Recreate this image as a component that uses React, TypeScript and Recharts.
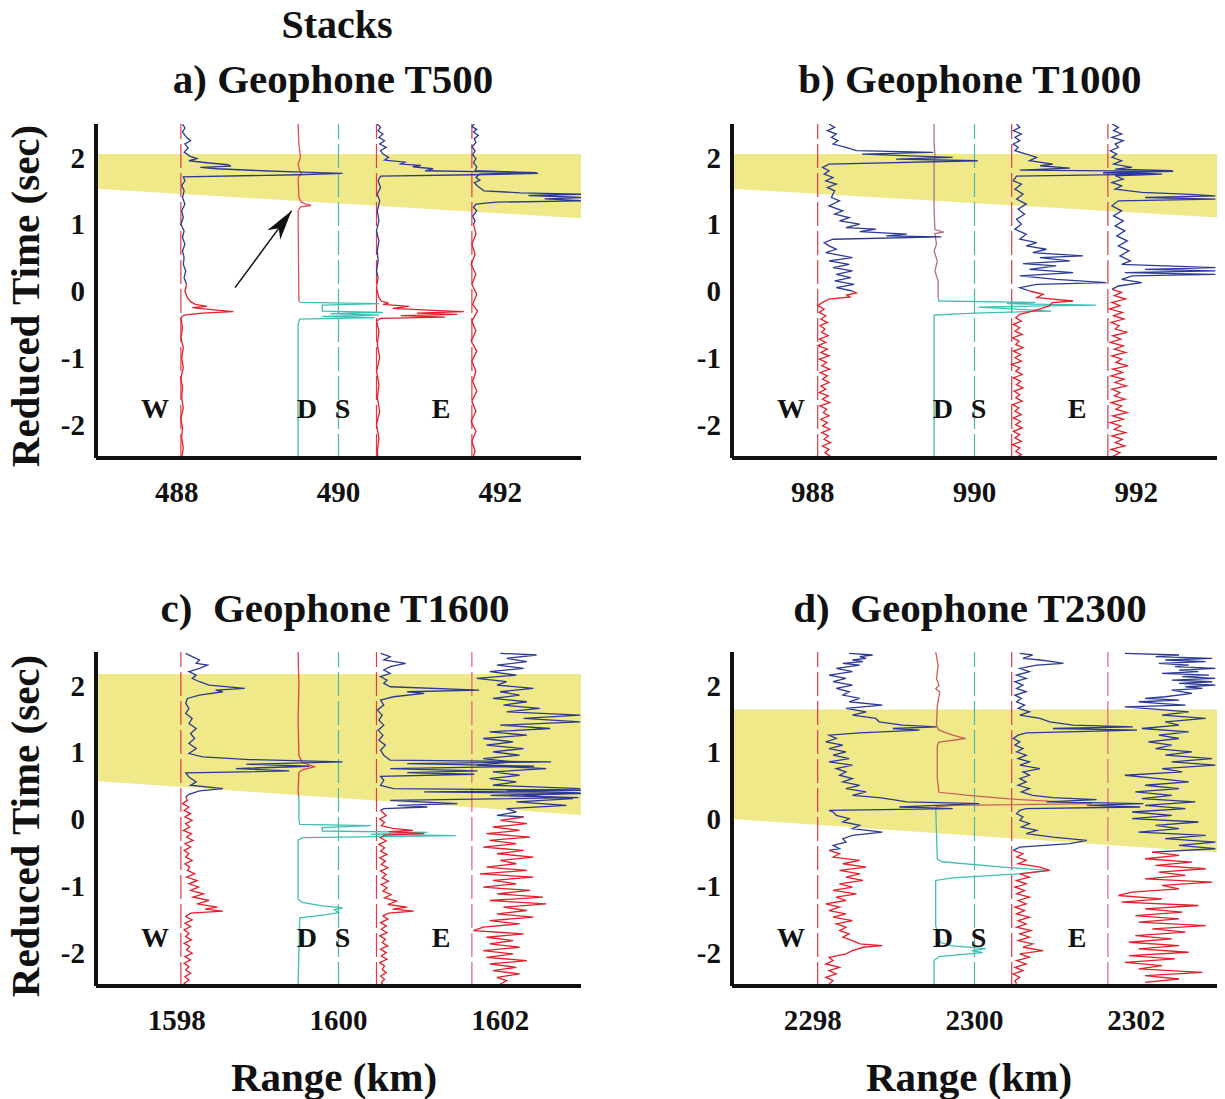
import { ComposedChart, Line, Area, Scatter, XAxis, YAxis } from 'recharts'

// [reduced time (s), deflection from station position (km)]
type Pt = [number, number]

const FONT = '"Liberation Serif", "Times New Roman", serif'
const BLUE = '#2c3a94'
const RED = '#e3202c'
const CYAN = '#3fbfb4'
const BAND = '#efe98a'

const yTicks = [-2, -1, 0, 1, 2]

// ---------- panel a (T500) ----------
const aWBlue: Pt[] = [[2.5,0.02],[2.44,0.05],[2.38,0.02],[2.3,0.07],[2.25,0.12],[2.2,0.05],[2.14,0.09],[2.08,0.04],[2.02,0.11],[1.98,0.2],[1.95,0.1],[1.92,0.32],[1.89,0.58],[1.87,0.62],[1.85,0.24],[1.83,0.45],[1.8,1.0],[1.78,1.5],[1.76,2.0],[1.74,1.45],[1.71,0.03],[1.65,0.05],[1.58,0.01],[1.5,0.04],[1.4,0.02],[1.3,0.05],[1.2,0.01],[1.1,0.03],[1.0,0.0],[0.9,0.04],[0.8,0.02],[0.7,0.05],[0.6,0.02],[0.5,0.04],[0.4,0.03],[0.3,0.06],[0.2,0.04],[0.1,0.07]]
const aWRed: Pt[] = [[0.1,0.07],[0.0,0.05],[-0.1,0.08],[-0.16,0.12],[-0.2,0.18],[-0.23,0.32],[-0.25,0.14],[-0.28,0.38],[-0.31,0.65],[-0.33,0.26],[-0.36,0.04],[-0.4,0.0],[-0.55,0.02],[-0.7,0.0],[-0.85,0.03],[-1.0,0.01],[-1.15,0.03],[-1.3,0.0],[-1.45,0.02],[-1.6,0.01],[-1.75,0.03],[-1.9,0.0],[-2.05,0.02],[-2.2,0.01],[-2.35,0.03],[-2.5,0.01]]
const aDTop: Pt[] = [[2.5,0],[2.2,0.01],[2.0,0.03],[1.9,0.0],[1.8,0.02],[1.76,0.04],[1.7,0.0],[1.4,0.01],[1.33,0.04],[1.3,0.1],[1.28,0.16],[1.26,0.03],[1.2,0.0],[-0.15,0.01]]
const aDLow: Pt[] = [[-0.15,0.01],[-0.17,0.03],[-0.19,1.0],[-0.21,0.3],[-0.3,0.3],[-0.32,1.05],[-0.34,0.4],[-0.36,1.0],[-0.38,0.3],[-0.4,0.95],[-0.42,0.02],[-0.5,0.0],[-2.5,0.0]]
const aE1Blue: Pt[] = [[2.5,0.01],[2.45,0.05],[2.4,0.02],[2.35,0.08],[2.3,0.03],[2.25,0.1],[2.2,0.04],[2.15,0.12],[2.1,0.05],[2.05,0.08],[2.0,0.15],[1.96,0.1],[1.93,0.35],[1.9,0.3],[1.88,0.55],[1.86,0.45],[1.83,0.7],[1.8,0.6],[1.78,1.6],[1.76,2.0],[1.74,1.2],[1.72,0.05],[1.65,0.02],[1.55,0.05],[1.45,0.01],[1.35,0.04],[1.2,0.01],[1.05,0.03],[0.9,0.0],[0.75,0.03],[0.6,0.01],[0.45,0.02],[0.3,0.0],[0.2,0.02]]
const aE1Red: Pt[] = [[0.2,0.02],[0.05,0.0],[-0.1,0.03],[-0.15,0.06],[-0.18,0.15],[-0.2,0.08],[-0.23,0.4],[-0.26,0.2],[-0.29,0.7],[-0.31,1.08],[-0.33,0.5],[-0.35,1.0],[-0.37,0.3],[-0.39,0.85],[-0.41,0.05],[-0.45,0.0],[-0.6,0.03],[-0.8,0.01],[-1.0,0.04],[-1.2,0.0],[-1.4,0.03],[-1.6,0.01],[-1.8,0.04],[-2.0,0.0],[-2.2,0.03],[-2.4,0.01],[-2.5,0.02]]
const aE2Blue: Pt[] = [[2.5,0.03],[2.46,0.0],[2.42,0.06],[2.38,0.02],[2.33,0.08],[2.28,0.03],[2.22,0.05],[2.16,0.0],[2.1,0.04],[2.04,0.01],[1.98,0.05],[1.92,0.02],[1.86,0.06],[1.8,0.04],[1.77,0.8],[1.75,0.1],[1.7,0.05],[1.66,0.1],[1.62,0.03],[1.56,0.08],[1.5,0.15],[1.47,0.6],[1.45,1.4],[1.43,0.7],[1.4,1.4],[1.38,0.9],[1.35,1.4],[1.33,0.3],[1.3,0.05],[1.25,0.02],[1.2,0.06],[1.12,0.01],[1.05,0.04],[1.0,0.02]]
const aE2Red: Pt[] = [[1.0,0.02],[0.85,0.05],[0.7,0.0],[0.55,0.04],[0.4,-0.01],[0.25,0.05],[0.1,0.0],[-0.05,0.06],[-0.2,0.01],[-0.3,0.07],[-0.45,0.0],[-0.6,0.05],[-0.75,-0.01],[-0.9,0.06],[-1.05,0.0],[-1.2,0.05],[-1.35,0.01],[-1.5,0.06],[-1.65,0.0],[-1.8,0.05],[-1.95,-0.01],[-2.1,0.05],[-2.25,0.0],[-2.4,0.04],[-2.5,0.01]]

// ---------- panel b (T1000) ----------
const bWBlue: Pt[] = [[2.5,0.14],[2.45,0.21],[2.4,0.12],[2.35,0.23],[2.3,0.17],[2.25,0.25],[2.2,0.19],[2.15,0.35],[2.1,0.48],[2.075,1.43],[2.05,0.55],[2.0,1.67],[1.975,0.97],[1.95,1.98],[1.9,0.14],[1.85,0.06],[1.8,0.14],[1.75,0.08],[1.7,0.19],[1.65,0.1],[1.6,0.23],[1.55,0.12],[1.5,0.21],[1.4,0.17],[1.35,0.27],[1.275,0.14],[1.2,0.31],[1.15,0.21],[1.1,0.39],[1.05,0.27],[1.0,0.52],[0.95,0.35],[0.925,0.72],[0.89,0.52],[0.85,1.1],[0.825,0.85],[0.81,1.53],[0.775,0.19],[0.725,0.08],[0.675,0.14],[0.625,0.23],[0.575,0.1],[0.5,0.43],[0.45,0.14],[0.4,0.39],[0.35,0.19],[0.3,0.43],[0.25,0.23],[0.2,0.41],[0.15,0.21],[0.1,0.45],[0.05,0.23],[0.0,0.43]]
const bWRed: Pt[] = [[0.0,0.43],[-0.03,0.48],[-0.06,0.36],[-0.09,0.4],[-0.12,0.14],[-0.17,0.06],[-0.22,0.0],[-0.27,0.08],[-0.32,0.02],[-0.37,0.1],[-0.42,0.04],[-0.47,0.12],[-0.52,0.03],[-0.57,0.09],[-0.62,0.05],[-0.67,0.13],[-0.72,0.02],[-0.77,0.1],[-0.82,0.0],[-0.87,0.12],[-0.92,0.04],[-0.97,0.14],[-1.02,0.02],[-1.07,0.11],[-1.12,0.05],[-1.17,0.15],[-1.22,0.03],[-1.27,0.12],[-1.32,0.06],[-1.37,0.14],[-1.42,0.04],[-1.47,0.1],[-1.52,0.02],[-1.57,0.13],[-1.62,0.06],[-1.67,0.15],[-1.72,0.03],[-1.77,0.11],[-1.82,0.07],[-1.87,0.14],[-1.92,0.04],[-1.97,0.12],[-2.02,0.06],[-2.07,0.15],[-2.12,0.05],[-2.17,0.13],[-2.22,0.08],[-2.27,0.16],[-2.32,0.06],[-2.37,0.14],[-2.42,0.09],[-2.47,0.15],[-2.5,0.1]]
const bDTop: Pt[] = [[2.5,0],[2.2,0.0],[2.05,0.01],[1.9,0.0],[1.2,0.0],[0.92,0.01],[0.88,0.12],[0.86,0.01],[0.7,0.03],[0.6,0.0],[0.45,0.04],[0.3,0.01],[0.15,0.05],[0.0,0.05],[-0.1,0.05]]
const bDLow: Pt[] = [[-0.1,0.05],[-0.15,0.06],[-0.17,1.25],[-0.19,0.9],[-0.21,2.0],[-0.24,0.55],[-0.3,1.45],[-0.33,0.5],[-0.36,0.0],[-2.5,0.0]]
const bE1Blue: Pt[] = [[2.5,0.06],[2.45,0.1],[2.4,0.02],[2.35,0.12],[2.3,0.04],[2.25,0.1],[2.2,0.02],[2.15,0.08],[2.1,0.04],[2.05,0.18],[2.0,0.31],[1.95,0.22],[1.9,0.51],[1.875,0.35],[1.84,0.72],[1.81,0.1],[1.79,2.0],[1.77,1.13],[1.75,1.75],[1.72,0.06],[1.65,0.02],[1.6,0.12],[1.525,0.04],[1.45,0.14],[1.375,0.06],[1.3,0.18],[1.225,0.08],[1.15,0.16],[1.075,0.06],[1.0,0.12],[0.925,0.04],[0.85,0.18],[0.775,0.1],[0.725,0.31],[0.675,0.18],[0.625,0.43],[0.575,0.26],[0.525,0.88],[0.5,0.35],[0.45,0.72],[0.41,0.14],[0.375,0.55],[0.325,0.22],[0.275,0.76],[0.225,0.1],[0.175,0.55],[0.125,1.17],[0.1,0.31],[0.05,0.1],[0.0,0.22]]
const bE1Red: Pt[] = [[0.0,0.22],[-0.05,0.39],[-0.1,0.31],[-0.15,0.76],[-0.175,0.5],[-0.22,0.47],[-0.27,0.35],[-0.35,0.1],[-0.4,0.05],[-0.45,0.12],[-0.5,0.02],[-0.55,0.1],[-0.6,0.04],[-0.65,0.13],[-0.7,0.01],[-0.75,0.09],[-0.8,0.05],[-0.85,0.14],[-0.9,0.02],[-0.95,0.11],[-1.0,0.04],[-1.05,0.12],[-1.1,0.0],[-1.15,0.1],[-1.2,0.05],[-1.25,0.13],[-1.3,0.02],[-1.35,0.11],[-1.4,0.06],[-1.45,0.14],[-1.5,0.03],[-1.55,0.1],[-1.6,0.05],[-1.65,0.13],[-1.7,0.01],[-1.75,0.09],[-1.8,0.04],[-1.85,0.12],[-1.9,0.02],[-1.95,0.11],[-2.0,0.05],[-2.05,0.13],[-2.1,0.02],[-2.15,0.1],[-2.2,0.04],[-2.25,0.12],[-2.3,0.01],[-2.35,0.1],[-2.4,0.05],[-2.45,0.12],[-2.5,0.04]]
const bE2Blue: Pt[] = [[2.5,0.05],[2.45,0.13],[2.4,0.07],[2.35,0.17],[2.3,0.05],[2.25,0.19],[2.2,0.09],[2.15,0.13],[2.1,0.03],[2.05,0.11],[2.0,0.05],[1.95,0.17],[1.9,0.07],[1.85,0.3],[1.825,0.09],[1.8,0.8],[1.775,0.13],[1.75,0.67],[1.725,0.09],[1.675,0.19],[1.625,0.05],[1.575,0.17],[1.525,0.09],[1.475,0.42],[1.45,0.96],[1.425,1.33],[1.4,0.46],[1.375,1.33],[1.35,0.13],[1.275,0.05],[1.2,0.17],[1.125,0.07],[1.05,0.19],[0.975,0.09],[0.9,0.21],[0.825,0.11],[0.75,0.24],[0.675,0.13],[0.6,0.26],[0.525,0.15],[0.45,0.28],[0.4,0.17],[0.35,1.33],[0.325,0.46],[0.3,1.33],[0.275,0.21],[0.25,1.33],[0.225,0.3],[0.175,0.17],[0.125,0.42],[0.075,0.13],[0.025,0.05]]
const bE2Red: Pt[] = [[0.025,0.05],[-0.02,0.17],[-0.07,0.08],[-0.12,0.22],[-0.17,0.05],[-0.22,0.15],[-0.27,0.02],[-0.32,0.18],[-0.37,0.07],[-0.42,0.2],[-0.47,0.04],[-0.52,0.14],[-0.57,0.09],[-0.62,0.24],[-0.67,0.06],[-0.72,0.16],[-0.77,0.03],[-0.82,0.19],[-0.87,0.08],[-0.92,0.22],[-0.97,0.05],[-1.02,0.17],[-1.07,0.1],[-1.12,0.25],[-1.17,0.06],[-1.22,0.18],[-1.27,0.04],[-1.32,0.2],[-1.37,0.09],[-1.42,0.23],[-1.47,0.05],[-1.52,0.15],[-1.57,0.08],[-1.62,0.21],[-1.67,0.04],[-1.72,0.17],[-1.77,0.1],[-1.82,0.24],[-1.87,0.06],[-1.92,0.19],[-1.97,0.03],[-2.02,0.16],[-2.07,0.08],[-2.12,0.22],[-2.17,0.05],[-2.22,0.18],[-2.27,0.09],[-2.32,0.21],[-2.37,0.04],[-2.42,0.15],[-2.47,0.07],[-2.5,0.12]]

// ---------- panel c (T1600) ----------
const cWBlue: Pt[] = [[2.48,0.06],[2.43,0.14],[2.38,0.23],[2.33,0.19],[2.305,0.33],[2.255,0.23],[2.205,0.1],[2.155,0.19],[2.105,0.14],[2.055,0.23],[2.005,0.35],[1.955,0.79],[1.93,0.43],[1.905,0.52],[1.855,0.23],[1.805,0.08],[1.73,0.06],[1.655,0.1],[1.58,0.06],[1.505,0.14],[1.43,0.1],[1.355,0.19],[1.28,0.12],[1.205,0.17],[1.13,0.1],[1.055,0.19],[0.98,0.1],[0.93,0.27],[0.89,0.85],[0.855,2.0],[0.82,0.81],[0.79,1.59],[0.755,0.68],[0.72,1.34],[0.69,0.06],[0.63,0.1],[0.555,0.19],[0.505,0.12],[0.455,0.52],[0.42,0.23],[0.37,0.1],[0.33,0.06]]
const cWRed: Pt[] = [[0.33,0.06],[0.28,0.08],[0.23,0.02],[0.18,0.1],[0.13,0.04],[0.08,0.12],[0.03,0.05],[-0.02,0.14],[-0.07,0.06],[-0.12,0.11],[-0.17,0.03],[-0.22,0.13],[-0.27,0.07],[-0.32,0.15],[-0.37,0.05],[-0.42,0.12],[-0.47,0.04],[-0.52,0.1],[-0.57,0.06],[-0.62,0.14],[-0.67,0.05],[-0.72,0.11],[-0.77,0.08],[-0.82,0.17],[-0.87,0.07],[-0.92,0.2],[-0.97,0.1],[-1.02,0.22],[-1.07,0.12],[-1.12,0.28],[-1.17,0.15],[-1.22,0.35],[-1.27,0.2],[-1.32,0.45],[-1.35,0.3],[-1.38,0.52],[-1.41,0.12],[-1.46,0.06],[-1.51,0.14],[-1.56,0.05],[-1.61,0.12],[-1.66,0.04],[-1.71,0.1],[-1.76,0.06],[-1.81,0.13],[-1.86,0.04],[-1.91,0.11],[-1.96,0.07],[-2.01,0.14],[-2.06,0.05],[-2.11,0.12],[-2.16,0.04],[-2.21,0.1],[-2.26,0.06],[-2.31,0.12],[-2.36,0.05],[-2.41,0.1],[-2.46,0.04],[-2.5,0.08]]
const cDTop: Pt[] = [[2.5,0],[2.0,0.01],[1.5,0],[0.95,0.01],[0.85,0.05],[0.78,0.2],[0.74,0.06],[0.7,0.01],[0.4,0.0],[0.33,0.01]]
const cDLow: Pt[] = [[0.33,0.01],[0.0,0.01],[-0.08,0.02],[-0.1,0.9],[-0.13,0.3],[-0.18,0.3],[-0.2,1.6],[-0.23,0.9],[-0.25,1.95],[-0.28,0.05],[-0.32,0.0],[-1.2,0.0],[-1.25,0.05],[-1.3,0.3],[-1.33,0.55],[-1.36,0.45],[-1.4,0.5],[-1.43,0.35],[-1.48,0.02],[-2.5,0.0]]
const cE1Blue: Pt[] = [[2.48,0.05],[2.43,0.17],[2.38,0.09],[2.33,0.36],[2.28,0.17],[2.23,0.09],[2.18,0.17],[2.13,0.05],[2.08,0.13],[2.03,0.09],[1.98,0.17],[1.93,1.27],[1.905,0.38],[1.88,0.59],[1.83,0.21],[1.78,0.05],[1.705,0.09],[1.63,0.01],[1.555,0.07],[1.48,0.03],[1.405,0.09],[1.33,0.02],[1.255,0.08],[1.18,0.03],[1.105,0.11],[1.03,0.05],[0.955,0.09],[0.88,0.17],[0.855,2.16],[0.83,0.38],[0.79,1.95],[0.755,0.17],[0.72,1.25],[0.695,0.38],[0.67,1.21],[0.64,0.05],[0.58,0.09],[0.505,0.05],[0.455,0.21],[0.43,2.55],[0.405,0.59],[0.38,2.55],[0.355,1.41],[0.32,2.5],[0.28,0.17],[0.23,1.0],[0.205,0.26],[0.18,0.63],[0.155,0.09],[0.13,0.05]]
const cE1Red: Pt[] = [[0.13,0.05],[0.05,0.12],[0.0,0.04],[-0.05,0.1],[-0.1,0.06],[-0.14,0.2],[-0.17,0.45],[-0.19,0.15],[-0.22,0.59],[-0.24,0.1],[-0.28,0.05],[-0.33,0.12],[-0.38,0.03],[-0.43,0.1],[-0.48,0.05],[-0.53,0.13],[-0.58,0.04],[-0.63,0.11],[-0.68,0.06],[-0.73,0.14],[-0.78,0.05],[-0.83,0.12],[-0.88,0.07],[-0.93,0.15],[-0.98,0.06],[-1.03,0.13],[-1.08,0.08],[-1.13,0.18],[-1.18,0.1],[-1.23,0.25],[-1.28,0.14],[-1.32,0.38],[-1.35,0.2],[-1.38,0.46],[-1.41,0.15],[-1.45,0.08],[-1.5,0.14],[-1.55,0.05],[-1.6,0.12],[-1.65,0.06],[-1.7,0.13],[-1.75,0.04],[-1.8,0.11],[-1.85,0.07],[-1.9,0.14],[-1.95,0.05],[-2.0,0.12],[-2.05,0.06],[-2.1,0.13],[-2.15,0.04],[-2.2,0.1],[-2.25,0.07],[-2.3,0.12],[-2.35,0.05],[-2.4,0.1],[-2.45,0.06],[-2.5,0.09]]
const cE2Blue: Pt[] = [[2.48,0.35],[2.455,0.8],[2.405,0.43],[2.355,0.68],[2.305,0.31],[2.255,0.64],[2.205,0.22],[2.155,0.55],[2.105,0.06],[2.055,0.43],[2.005,0.31],[1.955,0.76],[1.905,0.35],[1.855,0.59],[1.805,0.26],[1.755,0.68],[1.705,0.39],[1.655,0.84],[1.605,0.43],[1.555,1.34],[1.505,0.64],[1.455,1.34],[1.405,0.35],[1.355,0.97],[1.305,0.22],[1.255,0.68],[1.205,0.14],[1.155,0.51],[1.105,0.18],[1.055,0.64],[1.005,0.26],[0.955,0.59],[0.905,0.14],[0.855,0.51],[0.805,0.06],[0.755,0.92],[0.705,0.26],[0.655,0.59],[0.605,0.22],[0.555,0.55],[0.505,0.26],[0.455,1.34],[0.42,0.43],[0.39,1.34],[0.355,0.64],[0.305,1.25],[0.255,0.55],[0.205,1.17],[0.155,0.43],[0.105,0.55],[0.055,0.31],[0.03,0.64]]
const cE2Red: Pt[] = [[0.03,0.64],[-0.02,0.35],[-0.07,0.68],[-0.12,0.26],[-0.17,0.59],[-0.22,0.18],[-0.27,0.72],[-0.32,0.22],[-0.37,0.55],[-0.42,0.14],[-0.47,0.64],[-0.52,0.31],[-0.57,0.76],[-0.62,0.35],[-0.67,0.55],[-0.72,0.18],[-0.77,0.68],[-0.82,0.1],[-0.87,0.76],[-0.92,0.26],[-0.97,0.55],[-1.02,0.14],[-1.07,0.72],[-1.12,0.31],[-1.17,0.88],[-1.22,0.22],[-1.27,0.92],[-1.32,0.39],[-1.37,0.68],[-1.42,0.31],[-1.47,0.76],[-1.52,0.22],[-1.57,0.59],[-1.62,0.14],[-1.67,0.02],[-1.72,0.64],[-1.77,0.18],[-1.82,0.51],[-1.87,0.22],[-1.92,0.59],[-1.97,0.14],[-2.02,0.51],[-2.07,0.18],[-2.12,0.68],[-2.17,0.22],[-2.22,0.55],[-2.27,0.26],[-2.32,0.59],[-2.37,0.31],[-2.42,0.43],[-2.47,0.35]]

// ---------- panel d (T2300) ----------
const dWBlue: Pt[] = [[2.48,0.39],[2.455,0.68],[2.43,0.52],[2.405,0.6],[2.38,0.43],[2.355,0.56],[2.33,0.31],[2.305,0.52],[2.255,0.23],[2.205,0.43],[2.155,0.14],[2.105,0.35],[2.055,0.19],[2.005,0.43],[1.955,0.23],[1.905,0.39],[1.855,0.31],[1.805,0.52],[1.755,0.39],[1.705,0.8],[1.655,0.35],[1.605,0.6],[1.555,0.43],[1.505,0.72],[1.455,0.76],[1.405,1.05],[1.38,1.47],[1.355,0.93],[1.33,1.26],[1.29,0.52],[1.255,0.14],[1.205,0.23],[1.155,0.1],[1.105,0.31],[1.055,0.14],[1.005,0.35],[0.955,0.19],[0.905,0.39],[0.855,0.14],[0.805,0.43],[0.755,0.23],[0.705,0.35],[0.655,0.27],[0.605,0.43],[0.555,0.31],[0.505,0.52],[0.455,0.35],[0.405,0.6],[0.355,0.43],[0.32,0.76],[0.29,0.93],[0.255,1.1],[0.23,2.0],[0.205,1.47],[0.18,1.01],[0.155,1.67],[0.13,0.14],[0.105,0.19],[0.055,0.23],[0.005,0.39],[-0.045,0.31],[-0.095,0.52],[-0.145,0.43],[-0.195,0.8],[-0.245,0.43],[-0.295,0.31],[-0.345,0.35],[-0.395,0.19],[-0.445,0.27],[-0.47,0.14]]
const dWRed: Pt[] = [[-0.47,0.14],[-0.52,0.27],[-0.57,0.19],[-0.62,0.52],[-0.67,0.31],[-0.72,0.6],[-0.77,0.27],[-0.82,0.52],[-0.87,0.35],[-0.92,0.56],[-0.97,0.27],[-1.02,0.43],[-1.07,0.19],[-1.12,0.48],[-1.17,0.23],[-1.22,0.35],[-1.27,0.1],[-1.32,0.27],[-1.37,0.14],[-1.42,0.35],[-1.47,0.19],[-1.52,0.43],[-1.57,0.23],[-1.62,0.35],[-1.67,0.27],[-1.72,0.39],[-1.77,0.31],[-1.82,0.43],[-1.87,0.52],[-1.895,0.8],[-1.92,0.56],[-1.97,0.43],[-2.02,0.35],[-2.07,0.14],[-2.12,0.19],[-2.17,0.1],[-2.22,0.27],[-2.27,0.14],[-2.32,0.23],[-2.37,0.1],[-2.42,0.19],[-2.47,0.14]]
const dDTop: Pt[] = [[2.5,0.02],[2.3,0.05],[2.1,0.03],[2.0,0.06],[1.95,0.02],[1.9,0.07],[1.7,0.04],[1.4,0.03],[1.33,0.06],[1.26,0.22],[1.205,0.39],[1.15,0.06],[1.1,0.04],[0.6,0.04],[0.4,0.06],[0.355,0.43],[0.3,0.93],[0.23,1.96],[0.205,0.23],[0.18,0.02]]
const dDLow: Pt[] = [[0.18,0.02],[-0.6,0.04],[-0.64,0.1],[-0.72,0.85],[-0.77,1.43],[-0.82,1.05],[-0.88,0.23],[-0.92,0.02],[-1.6,0.02],[-1.85,0.08],[-1.9,0.23],[-1.94,0.64],[-1.97,0.47],[-2.0,0.6],[-2.06,0.06],[-2.12,0.0],[-2.5,0.0]]
const dE1Blue: Pt[] = [[2.48,0.1],[2.455,0.26],[2.405,0.14],[2.38,0.35],[2.355,0.51],[2.33,0.64],[2.305,0.31],[2.255,0.1],[2.205,0.22],[2.155,0.06],[2.105,0.18],[2.055,0.04],[2.005,0.14],[1.955,0.06],[1.905,0.18],[1.855,0.04],[1.805,0.12],[1.755,0.06],[1.705,0.16],[1.655,0.08],[1.605,0.22],[1.555,0.1],[1.505,0.35],[1.455,0.47],[1.405,0.76],[1.38,1.5],[1.355,0.51],[1.33,1.55],[1.29,0.18],[1.255,0.08],[1.205,0.02],[1.155,0.1],[1.105,0.04],[1.055,0.14],[1.005,0.06],[0.955,0.18],[0.905,0.08],[0.855,0.22],[0.805,0.1],[0.755,0.35],[0.705,0.14],[0.655,0.22],[0.605,0.1],[0.555,0.18],[0.505,0.08],[0.455,0.22],[0.405,0.12],[0.355,0.26],[0.32,0.51],[0.29,1.05],[0.255,0.43],[0.23,1.63],[0.205,0.93],[0.18,1.59],[0.155,0.18],[0.13,0.1],[0.08,0.06],[0.03,0.14],[-0.02,0.1],[-0.07,0.22],[-0.12,0.12],[-0.17,0.31],[-0.22,0.18],[-0.27,0.51],[-0.32,0.93],[-0.37,0.72],[-0.42,0.1],[-0.47,0.02]]
const dE1Red: Pt[] = [[-0.47,0.02],[-0.52,0.14],[-0.57,0.06],[-0.62,0.18],[-0.67,0.08],[-0.72,0.35],[-0.77,0.47],[-0.82,0.1],[-0.87,0.22],[-0.92,0.06],[-0.97,0.18],[-1.02,0.04],[-1.07,0.16],[-1.12,0.06],[-1.17,0.22],[-1.22,0.08],[-1.27,0.18],[-1.32,0.04],[-1.37,0.16],[-1.42,0.06],[-1.47,0.22],[-1.52,0.08],[-1.57,0.18],[-1.62,0.06],[-1.67,0.24],[-1.72,0.1],[-1.77,0.22],[-1.82,0.08],[-1.87,0.26],[-1.92,0.14],[-1.97,0.39],[-2.02,0.1],[-2.07,0.22],[-2.12,0.06],[-2.17,0.18],[-2.22,0.04],[-2.27,0.14],[-2.32,0.02],[-2.37,0.1],[-2.42,0.04],[-2.47,0.06]]
const dE2Blue: Pt[] = [[2.48,0.21],[2.455,0.88],[2.43,0.59],[2.405,1.29],[2.38,0.71],[2.355,1.21],[2.33,0.63],[2.305,1.0],[2.28,0.83],[2.255,1.33],[2.23,0.88],[2.205,1.12],[2.18,0.67],[2.155,1.25],[2.13,0.92],[2.105,1.33],[2.08,0.79],[2.055,1.29],[2.03,0.88],[2.005,1.33],[1.98,0.96],[1.955,1.17],[1.93,0.79],[1.88,1.04],[1.83,0.71],[1.805,0.46],[1.78,0.88],[1.755,0.38],[1.73,0.63],[1.705,0.96],[1.68,0.21],[1.655,0.46],[1.605,1.0],[1.555,0.67],[1.505,1.21],[1.455,0.71],[1.405,0.88],[1.355,0.42],[1.305,1.0],[1.255,0.63],[1.205,0.88],[1.155,0.5],[1.105,0.79],[1.055,0.59],[1.005,1.04],[0.955,0.71],[0.905,1.29],[0.855,0.79],[0.805,1.33],[0.755,0.67],[0.705,0.92],[0.655,0.21],[0.605,0.63],[0.555,1.0],[0.505,0.46],[0.455,0.88],[0.405,0.34],[0.355,0.79],[0.305,0.42],[0.255,1.08],[0.205,0.46],[0.155,0.96],[0.105,0.3],[0.055,0.79],[0.005,0.3],[-0.045,1.12],[-0.095,0.59],[-0.145,0.88],[-0.195,0.38],[-0.245,1.21],[-0.295,0.71],[-0.345,1.33],[-0.395,0.88],[-0.445,1.33],[-0.495,0.55]]
const dE2Red: Pt[] = [[-0.495,0.55],[-0.545,0.88],[-0.595,0.46],[-0.645,1.04],[-0.695,0.59],[-0.745,1.21],[-0.795,0.63],[-0.845,0.96],[-0.895,0.46],[-0.945,1.29],[-0.995,0.67],[-1.045,0.88],[-1.095,0.3],[-1.145,0.13],[-1.195,0.67],[-1.245,0.17],[-1.295,1.12],[-1.345,0.46],[-1.395,0.92],[-1.445,0.34],[-1.495,0.88],[-1.545,0.38],[-1.595,1.21],[-1.645,0.55],[-1.695,0.96],[-1.745,0.34],[-1.795,0.79],[-1.845,0.26],[-1.895,0.88],[-1.945,0.38],[-1.995,1.0],[-2.045,0.26],[-2.095,0.83],[-2.145,0.21],[-2.195,0.67],[-2.245,0.38],[-2.295,1.17],[-2.345,0.46],[-2.395,0.88],[-2.445,0.46]]

// station positions along the range axis (km): W, D, S, E1, E2
const aStations = [488.05, 489.5, 490.0, 490.47, 491.65]
const bStations = [988.06, 989.5, 990.0, 990.46, 991.65]
const cStations = [1598.05, 1599.5, 1600.0, 1600.47, 1601.65]
const dStations = [2298.06, 2299.5, 2300.0, 2300.46, 2301.65]

// yellow window: [time of lower edge at left, at right, top]
const aBand = [1.53, 1.09, 2.05]
const bBand = [1.53, 1.1, 2.05]
const cBand = [0.57, 0.06, 2.17]
const dBand = [0.0, -0.5, 1.64]

// arrow in panel a: tail, tip
const arrowTail = { x: 488.72, y: 0.05 }
const arrowTip = { x: 489.42, y: 1.2 }

type Trace = { base: number; pts: Pt[]; color: string }
type PanelDef = {
  left: number
  top: number
  x0: number
  ticks: number[]
  stations: number[]
  band: number[]
  letterT: number
  dColor: string
  e2Ref: string
  sets: Pt[][] // W blue, W red, D top, D low, E1 blue, E1 red, E2 blue, E2 red
  arrow?: boolean
}

const panels: PanelDef[] = [
  { left: 0, top: 100, x0: 487, ticks: [488, 490, 492], stations: aStations, band: aBand, letterT: -1.75, dColor: '#e05058', e2Ref: '#e03a44', sets: [aWBlue, aWRed, aDTop, aDLow, aE1Blue, aE1Red, aE2Blue, aE2Red], arrow: true },
  { left: 636, top: 100, x0: 987, ticks: [988, 990, 992], stations: bStations, band: bBand, letterT: -1.75, dColor: '#b0707e', e2Ref: '#e03a44', sets: [bWBlue, bWRed, bDTop, bDLow, bE1Blue, bE1Red, bE2Blue, bE2Red] },
  { left: 0, top: 628, x0: 1597, ticks: [1598, 1600, 1602], stations: cStations, band: cBand, letterT: -1.77, dColor: '#e0404c', e2Ref: '#e0607a', sets: [cWBlue, cWRed, cDTop, cDLow, cE1Blue, cE1Red, cE2Blue, cE2Red] },
  { left: 636, top: 628, x0: 2297, ticks: [2298, 2300, 2302], stations: dStations, band: dBand, letterT: -1.77, dColor: '#c8605a', e2Ref: '#e0607a', sets: [dWBlue, dWRed, dDTop, dDLow, dE1Blue, dE1Red, dE2Blue, dE2Red] },
]

const tickStyle = { fontFamily: FONT, fontWeight: 700, fontSize: 29, fill: '#111' }

const toXY = (base: number, pts: Pt[]) => pts.map(([t, dx]) => ({ x: base + dx, y: t }))

const LetterShape = (props: any) => {
  const label = props.payload?.label ?? props.label
  return (
    <text x={props.cx} y={props.cy} dy="0.35em" textAnchor="middle" fontFamily={FONT} fontWeight={700} fontSize={28} fill="#111">
      {label}
    </text>
  )
}

const ArrowHead = (props: any) => {
  const { cx, cy } = props
  if (cx == null || cy == null) return null
  const ux = 0.594
  const uy = -0.805
  const px = -uy
  const py = ux
  const L = 30
  const W = 8
  const bx = cx - ux * L
  const by = cy - uy * L
  const nx = cx - ux * L * 0.72
  const ny = cy - uy * L * 0.72
  return (
    <path
      d={`M${cx},${cy} L${bx + px * W},${by + py * W} L${nx},${ny} L${bx - px * W},${by - py * W} Z`}
      fill="#111"
    />
  )
}

function StackPanel({ p }: { p: PanelDef }) {
  const [wBase, dBase, sBase, e1Base, e2Base] = p.stations
  const [wBlue, wRed, dTop, dLow, e1Blue, e1Red, e2Blue, e2Red] = p.sets
  const traces: Trace[] = [
    { base: dBase, pts: dTop, color: p.dColor },
    { base: dBase, pts: dLow, color: CYAN },
    { base: e2Base, pts: e2Blue, color: BLUE },
    { base: e2Base, pts: e2Red, color: RED },
    { base: e1Base, pts: e1Blue, color: BLUE },
    { base: e1Base, pts: e1Red, color: RED },
    { base: wBase, pts: wBlue, color: BLUE },
    { base: wBase, pts: wRed, color: RED },
  ]
  const refs = [
    { x: wBase, color: '#e03a44' },
    { x: sBase, color: '#4fb8a8' },
    { x: e1Base, color: '#e03a44' },
    { x: e2Base, color: p.e2Ref },
  ]
  const bandData = [
    { x: p.x0, band: [p.band[0], p.band[2]] },
    { x: p.x0 + 6, band: [p.band[1], p.band[2]] },
  ]
  const letters = [
    { x: p.x0 + 0.73, y: p.letterT, label: 'W' },
    { x: p.x0 + 2.61, y: p.letterT, label: 'D' },
    { x: p.x0 + 3.05, y: p.letterT, label: 'S' },
    { x: p.x0 + 4.27, y: p.letterT, label: 'E' },
  ]

  return (
    <div style={{ position: 'absolute', left: p.left, top: p.top }}>
      <ComposedChart width={600} height={420} margin={{ top: 24, right: 19, bottom: 12, left: 0 }}>
        <XAxis
          type="number"
          dataKey="x"
          domain={[p.x0, p.x0 + 6]}
          ticks={p.ticks}
          allowDataOverflow
          height={50}
          axisLine={{ stroke: '#111', strokeWidth: 4 }}
          tickLine={false}
          tickMargin={17}
          tick={tickStyle}
        />
        <YAxis
          type="number"
          dataKey="y"
          domain={[-2.5, 2.5]}
          ticks={yTicks}
          allowDataOverflow
          width={96}
          axisLine={{ stroke: '#111', strokeWidth: 4 }}
          tickLine={false}
          tickMargin={5}
          tick={tickStyle}
        />
        <Area
          data={bandData}
          dataKey="band"
          type="linear"
          stroke="none"
          fill={BAND}
          fillOpacity={1}
          dot={false}
          activeDot={false}
          isAnimationActive={false}
        />
        {refs.map((r, i) => (
          <Line
            key={`ref${i}`}
            data={[{ x: r.x, y: -2.5 }, { x: r.x, y: 2.5 }]}
            dataKey="y"
            stroke={r.color}
            strokeWidth={1.2}
            strokeDasharray="24 5"
            dot={false}
            activeDot={false}
            isAnimationActive={false}
          />
        ))}
        {traces.map((tr, i) => (
          <Line
            key={`tr${i}`}
            data={toXY(tr.base, tr.pts)}
            dataKey="y"
            type="linear"
            stroke={tr.color}
            strokeWidth={1.3}
            dot={false}
            activeDot={false}
            isAnimationActive={false}
          />
        ))}
        {p.arrow && (
          <Line
            data={[arrowTail, arrowTip]}
            dataKey="y"
            stroke="#111"
            strokeWidth={1.5}
            dot={false}
            activeDot={false}
            isAnimationActive={false}
          />
        )}
        {p.arrow && <Scatter data={[arrowTip]} shape={ArrowHead} isAnimationActive={false} />}
        <Scatter data={letters} shape={LetterShape} isAnimationActive={false} />
      </ComposedChart>
    </div>
  )
}

function Caption({ text, cx, baseline, size = 41 }: { text: string; cx: number; baseline: number; size?: number }) {
  return (
    <div
      style={{
        position: 'absolute',
        left: cx,
        top: baseline - 0.8375 * size,
        transform: 'translateX(-50%)',
        fontFamily: FONT,
        fontWeight: 700,
        fontSize: size,
        lineHeight: 1,
        whiteSpace: 'pre',
        color: '#111',
      }}
    >
      {text}
    </div>
  )
}

function SideLabel({ cy }: { cy: number }) {
  return (
    <div
      style={{
        position: 'absolute',
        left: 25,
        top: cy,
        transform: 'translate(-50%, -50%) rotate(-90deg)',
        fontFamily: FONT,
        fontWeight: 700,
        fontSize: 41,
        lineHeight: 1,
        whiteSpace: 'nowrap',
        color: '#111',
      }}
    >
      Reduced Time (sec)
    </div>
  )
}

export default function App() {
  return (
    <div style={{ position: 'absolute', left: 0, top: 0, width: 1225, height: 1099, background: '#fff', overflow: 'hidden' }}>
      {panels.map((p, i) => (
        <StackPanel key={i} p={p} />
      ))}
      <Caption text="Stacks" cx={337} baseline={38} size={40} />
      <Caption text="a) Geophone T500" cx={333} baseline={93} />
      <Caption text="b) Geophone T1000" cx={970} baseline={93} />
      <Caption text="c)  Geophone T1600" cx={335} baseline={622} />
      <Caption text="d)  Geophone T2300" cx={970} baseline={622} />
      <Caption text="Range (km)" cx={334} baseline={1091} />
      <Caption text="Range (km)" cx={969} baseline={1091} />
      <SideLabel cy={296} />
      <SideLabel cy={826} />
    </div>
  )
}
